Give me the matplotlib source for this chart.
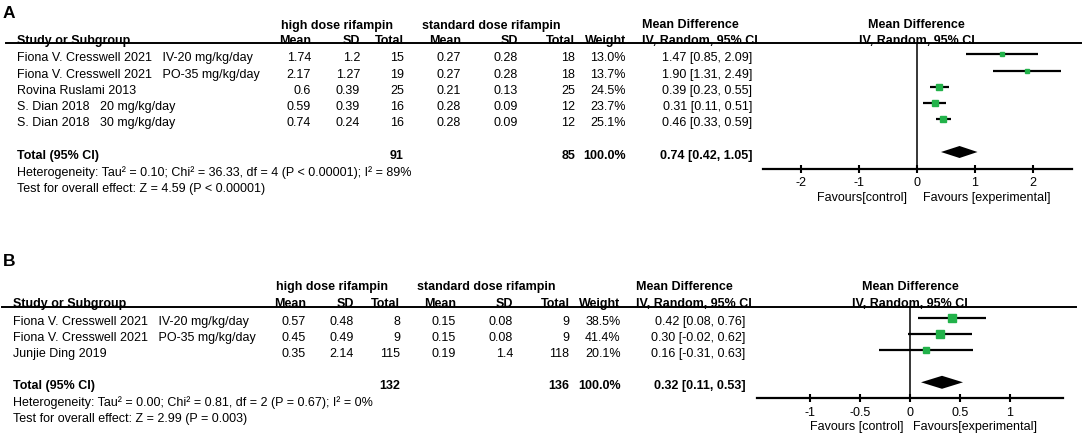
import matplotlib
matplotlib.use('Agg')
import matplotlib.pyplot as plt
from matplotlib.lines import Line2D
from matplotlib.patches import Polygon
import matplotlib.transforms as mtransforms

plt.rcParams['font.family'] = ['Liberation Sans', 'DejaVu Sans']
plt.rcParams['axes.unicode_minus'] = False

# ---------------- Panel A data ----------------
studies_A = ["Fiona V. Cresswell 2021   IV-20 mg/kg/day",
             "Fiona V. Cresswell 2021   PO-35 mg/kg/day",
             "Rovina Ruslami 2013",
             "S. Dian 2018   20 mg/kg/day",
             "S. Dian 2018   30 mg/kg/day"]
hi_mean_A = ["1.74", "2.17", "0.6", "0.59", "0.74"]
hi_sd_A = ["1.2", "1.27", "0.39", "0.39", "0.24"]
hi_n_A = ["15", "19", "25", "16", "16"]
std_mean_A = ["0.27", "0.27", "0.21", "0.28", "0.28"]
std_sd_A = ["0.28", "0.28", "0.13", "0.09", "0.09"]
std_n_A = ["18", "18", "25", "12", "12"]
weight_A = [13.0, 13.7, 24.5, 23.7, 25.1]
md_A = [1.47, 1.90, 0.39, 0.31, 0.46]
lo_A = [0.85, 1.31, 0.23, 0.11, 0.33]
up_A = [2.09, 2.49, 0.55, 0.51, 0.59]
total_A = (0.74, 0.42, 1.05)
total_n_A = ("91", "85")
het_A = "Heterogeneity: Tau² = 0.10; Chi² = 36.33, df = 4 (P < 0.00001); I² = 89%"
test_A = "Test for overall effect: Z = 4.59 (P < 0.00001)"
ticks_A = [-2, -1, 0, 1, 2]
ticklabels_A = ["-2", "-1", "0", "1", "2"]
fav_A = ("Favours[control]", "Favours [experimental]")

# ---------------- Panel B data ----------------
studies_B = ["Fiona V. Cresswell 2021   IV-20 mg/kg/day",
             "Fiona V. Cresswell 2021   PO-35 mg/kg/day",
             "Junjie Ding 2019"]
hi_mean_B = ["0.57", "0.45", "0.35"]
hi_sd_B = ["0.48", "0.49", "2.14"]
hi_n_B = ["8", "9", "115"]
std_mean_B = ["0.15", "0.15", "0.19"]
std_sd_B = ["0.08", "0.08", "1.4"]
std_n_B = ["9", "9", "118"]
weight_B = [38.5, 41.4, 20.1]
md_B = [0.42, 0.30, 0.16]
lo_B = [0.08, -0.02, -0.31]
up_B = [0.76, 0.62, 0.63]
total_B = (0.32, 0.11, 0.53)
total_n_B = ("132", "136")
het_B = "Heterogeneity: Tau² = 0.00; Chi² = 0.81, df = 2 (P = 0.67); I² = 0%"
test_B = "Test for overall effect: Z = 2.99 (P = 0.003)"
ticks_B = [-1, -0.5, 0, 0.5, 1]
ticklabels_B = ["-1", "-0.5", "0", "0.5", "1"]
fav_B = ("Favours [control]", "Favours[experimental]")

GREEN = '#22b24a'
W, H = 1084, 436
FS = 9
TXT_DY = 1.0      # bbox-centre vs. visual-centre correction (px)
MARK_DY = -3.0    # forest rows sit slightly above text rows (px)

fig = plt.figure(figsize=(W / 100, H / 100), dpi=100)


def fx(px):
    return px / W


def fy(py):
    return 1 - py / H


def txt(x, y, s, ha='left', bold=False, size=FS):
    fig.text(fx(x), fy(y + TXT_DY), s, ha=ha, va='center', fontsize=size,
             fontweight='bold' if bold else 'normal')


def panel(label, L, studies, hm, hs, hn, sm, ss, sn, wt, md, lo, up, tot,
          tot_n, het, test, ticks, ticklabels, xlim, fav):
    c = L['cols']
    txt(L['lab_x'], L['lab_y'], label, bold=True, size=12.5)
    txt(L['grp_hi_x'], L['grp_y'], "high dose rifampin", ha='center', bold=True)
    txt(L['grp_std_x'], L['grp_y'], "standard dose rifampin", ha='left', bold=True)
    txt(c['md_l'], L['grp_y'], "Mean Difference", bold=True)
    txt(L['zero_x'], L['grp_y'], "Mean Difference", ha='center', bold=True)

    hy = L['hdr_y']
    txt(c['name'], hy, "Study or Subgroup", bold=True)
    for key, s in (('hm', 'Mean'), ('hs', 'SD'), ('hn', 'Total'),
                   ('sm', 'Mean'), ('ss', 'SD'), ('sn', 'Total'), ('wt', 'Weight')):
        txt(c[key], hy, s, ha='right', bold=True)
    txt(c['md_l'], hy, "IV, Random, 95% CI", bold=True)
    txt(L['zero_x'], hy, "IV, Random, 95% CI", ha='center', bold=True)

    fig.add_artist(Line2D([fx(L['line_x0']), fx(L['line_x1'])],
                          [fy(L['line_y'])] * 2, color='black', lw=1.4))

    rows = L['rows']
    for i, y in enumerate(rows):
        txt(c['name'], y, studies[i])
        txt(c['hm'], y, hm[i], ha='right')
        txt(c['hs'], y, hs[i], ha='right')
        txt(c['hn'], y, hn[i], ha='right')
        txt(c['sm'], y, sm[i], ha='right')
        txt(c['ss'], y, ss[i], ha='right')
        txt(c['sn'], y, sn[i], ha='right')
        txt(c['wt'], y, f"{wt[i]:.1f}%", ha='right')
        txt(c['ci'], y, f"{md[i]:.2f} [{lo[i]:.2f}, {up[i]:.2f}]", ha='right')

    ty = L['tot_y']
    txt(c['name'], ty, "Total (95% CI)", bold=True)
    txt(c['hn'], ty, tot_n[0], ha='right', bold=True)
    txt(c['sn'], ty, tot_n[1], ha='right', bold=True)
    txt(c['wt'], ty, "100.0%", ha='right', bold=True)
    txt(c['ci'], ty, f"{tot[0]:.2f} [{tot[1]:.2f}, {tot[2]:.2f}]", ha='right', bold=True)
    txt(c['name'], L['het_y'], het)
    txt(c['name'], L['test_y'], test)

    # forest axes (y in pixel-layout units, inverted)
    x0, x1 = L['ax_x0'], L['ax_x1']
    ytop, ybot = L['line_y'], L['axis_y']
    ax = fig.add_axes([fx(x0), fy(ybot), (x1 - x0) / W, (ybot - ytop) / H])
    ax.set_xlim(*xlim)
    ax.set_ylim(ybot, ytop)
    ax.patch.set_visible(False)
    ax.axvline(0, color='black', lw=1.1)
    frows = [y + MARK_DY for y in rows]
    ax.hlines(frows, lo, up, color='black', lw=1.6)
    for i, y in enumerate(frows):
        side_px = 2 + 0.16 * wt[i]
        ax.plot(md[i], y, marker='s', ms=side_px * 0.72, color=GREEN,
                mec=GREEN, ls='none')
    dy = ty + MARK_DY
    dh = L['dia_h']
    ax.add_patch(Polygon([(tot[1], dy), (tot[0], dy - dh), (tot[2], dy), (tot[0], dy + dh)],
                         closed=True, color='black', lw=0))
    for s in ('top', 'left', 'right'):
        ax.spines[s].set_visible(False)
    ax.spines['bottom'].set_linewidth(1.6)
    ax.set_yticks([])
    ax.set_xticks(ticks)
    ax.set_xticklabels(ticklabels, fontsize=FS)
    ax.tick_params(axis='x', direction='inout', length=6, width=1.5, pad=3.0)
    trans = mtransforms.blended_transform_factory(ax.transData, ax.transAxes)
    ax.annotate(fav[0], xy=(0, 0), xycoords=trans, xytext=(-L['fav_l'], -L['fav_off']),
                textcoords='offset pixels', ha='right', va='center', fontsize=FS)
    ax.annotate(fav[1], xy=(0, 0), xycoords=trans, xytext=(L['fav_r'], -L['fav_off']),
                textcoords='offset pixels', ha='left', va='center', fontsize=FS)


LA = dict(lab_x=3, lab_y=12, grp_y=24.5, hdr_y=40, line_y=43.5, line_x0=6, line_x1=1081,
          rows=[57.4, 73.6, 89.7, 105.9, 121.8], tot_y=155, het_y=171.6, test_y=187.6,
          axis_y=169, ax_x0=763, ax_x1=1072, zero_x=916.7, dia_h=6, fav_off=29,
          fav_l=10, fav_r=6, grp_hi_x=337, grp_std_x=421.8,
          cols=dict(name=17.3, hm=311, hs=360, hn=404, sm=461, ss=518, sn=575,
                    wt=626, ci=752, md_l=642))
LB = dict(lab_x=3, lab_y=261, grp_y=286.4, hdr_y=302.7, line_y=306.7, line_x0=2, line_x1=1076,
          rows=[321, 337, 352.7], tot_y=385.3, het_y=401.7, test_y=417.7,
          axis_y=398.3, ax_x0=756.7, ax_x1=1063.3, zero_x=910, dia_h=6.5, fav_off=29,
          fav_l=6, fav_r=3, grp_hi_x=332, grp_std_x=416.7,
          cols=dict(name=12.7, hm=306, hs=354, hn=400, sm=456, ss=513, sn=569.5,
                    wt=620.5, ci=745.4, md_l=636.5))

panel("A", LA, studies_A, hi_mean_A, hi_sd_A, hi_n_A, std_mean_A, std_sd_A, std_n_A,
      weight_A, md_A, lo_A, up_A, total_A, total_n_A, het_A, test_A,
      ticks_A, ticklabels_A, (-2.65, 2.68), fav_A)
panel("B", LB, studies_B, hi_mean_B, hi_sd_B, hi_n_B, std_mean_B, std_sd_B, std_n_B,
      weight_B, md_B, lo_B, up_B, total_B, total_n_B, het_B, test_B,
      ticks_B, ticklabels_B, (-1.533, 1.533), fav_B)

fig.savefig('out.png', dpi=100)
